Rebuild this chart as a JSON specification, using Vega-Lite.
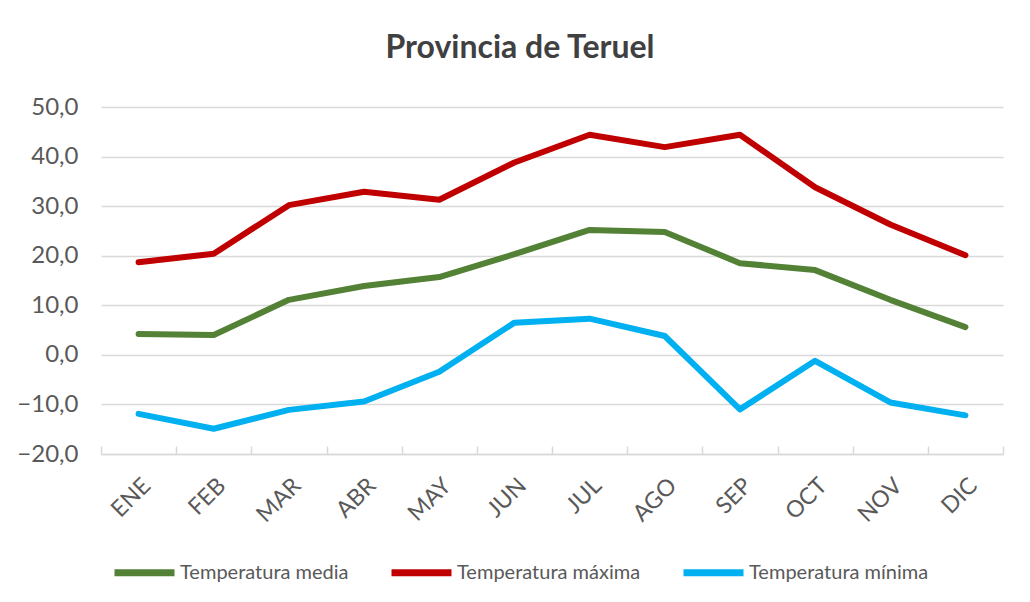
{
  "$schema": "https://vega.github.io/schema/vega-lite/v6.json",
  "width": 902,
  "height": 347,
  "autosize": "none",
  "padding": {"left": 101, "top": 107, "right": 27, "bottom": 148},
  "background": "white",
  "title": {
    "text": "Provincia de Teruel",
    "font": "Lato",
    "fontSize": 32,
    "fontWeight": "bold",
    "color": "#404040",
    "anchor": "middle",
    "dx": -32,
    "offset": 30
  },
  "data": {
    "values": [
      {"mes": "ENE", "serie": "Temperatura media", "t": 4.2},
      {"mes": "FEB", "serie": "Temperatura media", "t": 4.0},
      {"mes": "MAR", "serie": "Temperatura media", "t": 11.1},
      {"mes": "ABR", "serie": "Temperatura media", "t": 13.9},
      {"mes": "MAY", "serie": "Temperatura media", "t": 15.7},
      {"mes": "JUN", "serie": "Temperatura media", "t": 20.3},
      {"mes": "JUL", "serie": "Temperatura media", "t": 25.2},
      {"mes": "AGO", "serie": "Temperatura media", "t": 24.8},
      {"mes": "SEP", "serie": "Temperatura media", "t": 18.5},
      {"mes": "OCT", "serie": "Temperatura media", "t": 17.1},
      {"mes": "NOV", "serie": "Temperatura media", "t": 11.1},
      {"mes": "DIC", "serie": "Temperatura media", "t": 5.6},
      {"mes": "ENE", "serie": "Temperatura máxima", "t": 18.7},
      {"mes": "FEB", "serie": "Temperatura máxima", "t": 20.4},
      {"mes": "MAR", "serie": "Temperatura máxima", "t": 30.2},
      {"mes": "ABR", "serie": "Temperatura máxima", "t": 32.9},
      {"mes": "MAY", "serie": "Temperatura máxima", "t": 31.3},
      {"mes": "JUN", "serie": "Temperatura máxima", "t": 38.8},
      {"mes": "JUL", "serie": "Temperatura máxima", "t": 44.4},
      {"mes": "AGO", "serie": "Temperatura máxima", "t": 41.9},
      {"mes": "SEP", "serie": "Temperatura máxima", "t": 44.4},
      {"mes": "OCT", "serie": "Temperatura máxima", "t": 33.8},
      {"mes": "NOV", "serie": "Temperatura máxima", "t": 26.3},
      {"mes": "DIC", "serie": "Temperatura máxima", "t": 20.1},
      {"mes": "ENE", "serie": "Temperatura mínima", "t": -11.9},
      {"mes": "FEB", "serie": "Temperatura mínima", "t": -14.9},
      {"mes": "MAR", "serie": "Temperatura mínima", "t": -11.1},
      {"mes": "ABR", "serie": "Temperatura mínima", "t": -9.4},
      {"mes": "MAY", "serie": "Temperatura mínima", "t": -3.4},
      {"mes": "JUN", "serie": "Temperatura mínima", "t": 6.5},
      {"mes": "JUL", "serie": "Temperatura mínima", "t": 7.3},
      {"mes": "AGO", "serie": "Temperatura mínima", "t": 3.8},
      {"mes": "SEP", "serie": "Temperatura mínima", "t": -11.0},
      {"mes": "OCT", "serie": "Temperatura mínima", "t": -1.2},
      {"mes": "NOV", "serie": "Temperatura mínima", "t": -9.6},
      {"mes": "DIC", "serie": "Temperatura mínima", "t": -12.2}
    ]
  },
  "mark": {"type": "line", "strokeWidth": 6, "strokeCap": "round", "strokeJoin": "round"},
  "encoding": {
    "x": {
      "field": "mes",
      "type": "nominal",
      "sort": ["ENE", "FEB", "MAR", "ABR", "MAY", "JUN", "JUL", "AGO", "SEP", "OCT", "NOV", "DIC"],
      "scale": {"paddingInner": 0, "paddingOuter": 0},
      "axis": {
        "title": null,
        "labelAngle": -45,
        "labelFont": "Lato",
        "labelFontSize": 23,
        "labelColor": "#595959",
        "labelPadding": 28,
        "domainColor": "#D9D9D9",
        "domainWidth": 1.5,
        "ticks": true,
        "tickBand": "extent",
        "tickColor": "#D9D9D9",
        "tickWidth": 1.5,
        "tickSize": -8,
        "grid": false
      }
    },
    "y": {
      "field": "t",
      "type": "quantitative",
      "scale": {"domain": [-20, 50], "nice": false, "zero": false},
      "axis": {
        "title": null,
        "values": [-20, -10, 0, 10, 20, 30, 40, 50],
        "labelExpr": "replace(format(datum.value, '.1f'), '.', ',')",
        "labelFont": "Lato",
        "labelFontSize": 24,
        "labelColor": "#595959",
        "labelPadding": 23,
        "ticks": false,
        "domain": false,
        "grid": true,
        "gridColor": "#D9D9D9",
        "gridWidth": 1.5
      }
    },
    "color": {
      "field": "serie",
      "type": "nominal",
      "scale": {
        "domain": ["Temperatura media", "Temperatura máxima", "Temperatura mínima"],
        "range": ["#538135", "#C00000", "#00B0F0"]
      },
      "legend": {
        "title": null,
        "orient": "none",
        "direction": "horizontal",
        "legendX": 10,
        "legendY": 432,
        "symbolType": "stroke",
        "symbolSize": 3600,
        "symbolStrokeWidth": 7,
        "labelFont": "Lato",
        "labelFontSize": 20,
        "labelLimit": 0,
        "labelColor": "#595959",
        "labelOffset": 2,
        "columnPadding": 28
      }
    }
  },
  "config": {
    "view": {"stroke": null}
  }
}
